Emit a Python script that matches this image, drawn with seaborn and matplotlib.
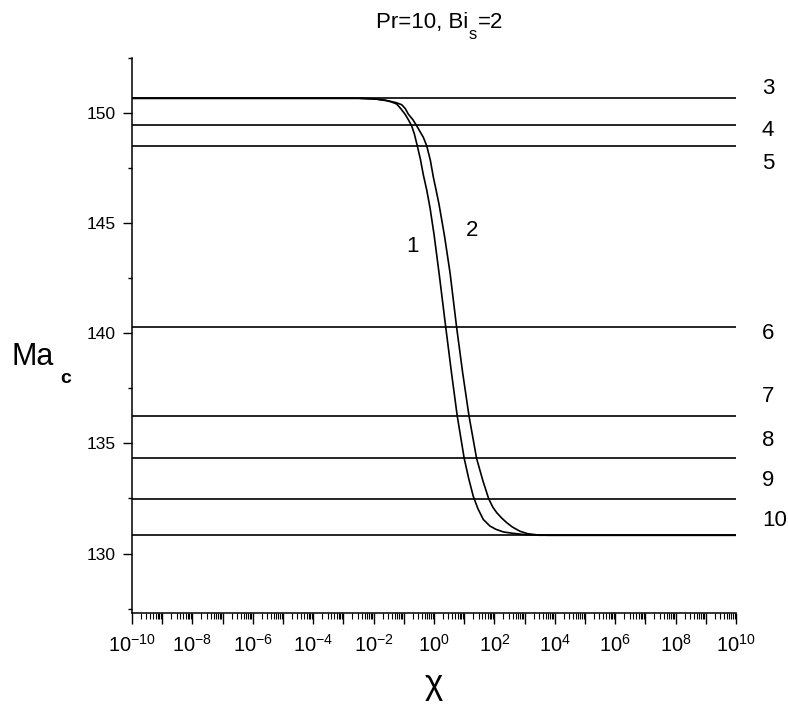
import numpy as np
import pandas as pd
import matplotlib
matplotlib.use("Agg")
import matplotlib.pyplot as plt
import matplotlib.ticker as mticker
import matplotlib.transforms as mtrans
import matplotlib.font_manager as fm
import seaborn as sns

# curve 1 and 2: log10(chi) vs critical Marangoni number
logchi_1 = [-10, -2.5, -2.0, -1.6, -1.4, -1.235, -1.1, -0.96, -0.85, -0.74, -0.65, -0.553,
            -0.45, -0.354, -0.24, -0.132, 0.0, 0.18, 0.39, 0.58, 0.77, 1.0, 1.15, 1.3, 1.45,
            1.63, 1.85, 2.05, 2.3, 2.6, 3.0, 3.5, 10]
ma_1 = [150.67, 150.67, 150.65, 150.58, 150.5, 150.41, 150.2, 149.95, 149.7, 149.42, 149.05, 148.51,
        147.9, 147.2, 146.5, 145.7, 144.5, 142.6, 140.26, 138.2, 136.24, 134.32, 133.4, 132.6, 132.05,
        131.55, 131.25, 131.1, 130.98, 130.92, 130.86, 130.83, 130.83]

logchi_2 = [-10, -2.5, -1.9, -1.5, -1.25, -1.07, -0.95, -0.85, -0.7, -0.573, -0.354, -0.24,
            -0.12, -0.023, 0.07, 0.166, 0.35, 0.53, 0.75, 0.95, 1.16, 1.41, 1.62, 1.81, 1.95,
            2.08, 2.25, 2.41, 2.6, 2.85, 3.1, 3.4, 3.8, 10]
ma_2 = [150.67, 150.67, 150.63, 150.55, 150.47, 150.38, 150.2, 149.95, 149.7, 149.42, 148.9, 148.51,
        147.85, 147.1, 146.5, 145.86, 144.4, 142.76, 140.26, 138.2, 136.24, 134.32, 133.3, 132.49, 132.1,
        131.85, 131.6, 131.4, 131.2, 131.01, 130.9, 130.85, 130.83, 130.83]

# constant levels 3..10
level_ids = ['3', '4', '5', '6', '7', '8', '9', '10']
level_vals = [150.67, 149.44, 148.51, 140.27, 136.24, 134.32, 132.49, 130.83]
level_label_y = [150.86, 148.95, 147.45, 139.73, 136.86, 134.86, 133.05, 131.23]

chi_range = [1e-10, 1e10]

names = {f.name for f in fm.fontManager.ttflist}
fam = 'Liberation Sans Narrow' if 'Liberation Sans Narrow' in names else 'Liberation Sans'

sns.set_style("ticks")
plt.rcParams['font.family'] = [fam, 'DejaVu Sans']
plt.rcParams['mathtext.fontset'] = 'custom'
plt.rcParams['mathtext.rm'] = fam
plt.rcParams['mathtext.it'] = fam + ':italic'
plt.rcParams['mathtext.bf'] = fam + ':bold'
plt.rcParams['text.color'] = 'black'
plt.rcParams['xtick.color'] = 'black'
plt.rcParams['ytick.color'] = 'black'
plt.rcParams['axes.edgecolor'] = 'black'

fig = plt.figure(figsize=(7.88, 7.09), dpi=100)
ax = fig.add_axes([132 / 788, 1 - 613 / 709, 604 / 788, 555 / 709])
ax.set_xscale('log')

for v in level_vals:
    sns.lineplot(x=chi_range, y=[v, v], color='black', lw=1.2, ax=ax, estimator=None, sort=False)

c1 = pd.DataFrame({'chi': 10.0 ** np.array(logchi_1), 'ma': ma_1})
c2 = pd.DataFrame({'chi': 10.0 ** np.array(logchi_2), 'ma': ma_2})
sns.lineplot(data=c1, x='chi', y='ma', color='black', lw=1.2, ax=ax, estimator=None, sort=False)
sns.lineplot(data=c2, x='chi', y='ma', color='black', lw=1.2, ax=ax, estimator=None, sort=False)

ax.set_xlim(chi_range)
ax.set_ylim(127.3, 152.5)
ax.set_xlabel('')
ax.set_ylabel('')

sns.despine(ax=ax)
for s in ['left', 'bottom']:
    ax.spines[s].set_linewidth(1.1)

ax.xaxis.set_major_locator(mticker.LogLocator(base=10, numticks=30))
ax.xaxis.set_minor_locator(mticker.LogLocator(base=10, subs=np.arange(2, 10), numticks=30))


def fmt_x(v, pos):
    e = int(round(np.log10(v)))
    return r'$\mathregular{10^{%d}}$' % e if e % 2 == 0 else ''


ax.xaxis.set_major_formatter(mticker.FuncFormatter(fmt_x))
ax.xaxis.set_minor_formatter(mticker.NullFormatter())
ax.yaxis.set_major_locator(mticker.MultipleLocator(5))
ax.yaxis.set_minor_locator(mticker.MultipleLocator(2.5))

ax.tick_params(axis='x', which='major', direction='out', length=8, width=1, labelsize=14.5, pad=7)
ax.tick_params(axis='x', which='minor', direction='out', length=4.3, width=0.8)
ax.tick_params(axis='y', which='major', direction='out', length=6.5, width=1, labelsize=12.5, pad=5)
ax.tick_params(axis='y', which='minor', direction='out', length=3, width=1)

# labels for the constant lines, just right of the axes
trans = mtrans.blended_transform_factory(ax.transAxes, ax.transData)
for lid, ly in zip(level_ids, level_label_y):
    ax.text(1.043, ly, lid, transform=trans, ha='left', va='baseline', fontsize=16, clip_on=False)

# curve labels
ax.text(10 ** -0.904, 143.67, '1', ha='left', va='baseline', fontsize=16)
ax.text(10 ** 1.06, 144.42, '2', ha='left', va='baseline', fontsize=16)

# title with dropped subscript
t1 = fig.text(376 / 788, 1 - 28.3 / 709, 'Pr=10, Bi', ha='left', va='baseline', fontsize=16)
t2 = ax.annotate('s', xy=(1, 0), xycoords=t1, xytext=(0.5, -6), textcoords='offset points',
                 ha='left', va='bottom', fontsize=12)
ax.annotate('=2', xy=(1, 0), xycoords=(t2, t1), xytext=(0.5, 0), textcoords='offset points',
            ha='left', va='bottom', fontsize=16)

# y label Ma_c
fig.text(12 / 788, 1 - 365 / 709, 'Ma', ha='left', va='baseline', fontsize=22)
fig.text(60 / 788, 1 - 383 / 709, 'c', ha='left', va='baseline', fontsize=14, fontweight='bold')

# x label
fig.text(434 / 788, 1 - 694 / 709, 'χ', ha='center', va='baseline', fontsize=25)

fig.savefig('out.png', dpi=100)
